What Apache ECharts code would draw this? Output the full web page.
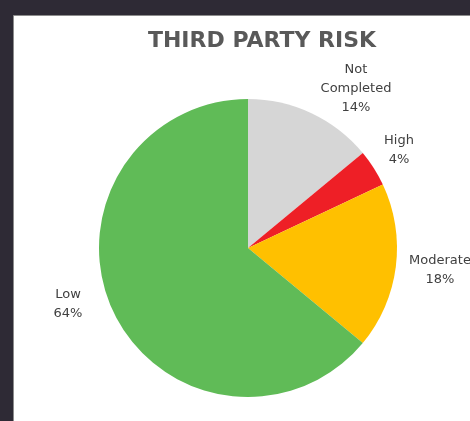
<!DOCTYPE html>
<html>
<head>
<meta charset="utf-8">
<script src="https://cdn.jsdelivr.net/npm/echarts@6/dist/echarts.min.js"></script>
<style>
  html, body { margin: 0; padding: 0; background: #2e2a35; }
  #chart { width: 470px; height: 421px; }
</style>
</head>
<body>
<div id="chart"></div>
<script>
// data
var categories = ['Not Completed', 'High', 'Moderate', 'Low']
var riskValues = [14, 4, 18, 64]
var sliceColors = ['#d6d6d6', '#ee1f26', '#ffc000', '#60bb57']

// where each label block sits (centre, px)
var labelSpots = [[356, 89], [399, 150], [440, 270], [68, 304]]

var chart = echarts.init(document.getElementById('chart'))

chart.setOption({
  backgroundColor: '#2e2a35',
  graphic: [
    {
      type: 'rect',
      shape: { x: 13.5, y: 15.5, width: 470, height: 420 },
      style: { fill: '#ffffff', stroke: '#8c8c8c', lineWidth: 1 },
      z: -10
    }
  ],
  title: {
    text: 'THIRD PARTY RISK',
    left: 257,
    top: 25,
    textAlign: 'center',
    textStyle: {
      fontFamily: 'DejaVu Sans',
      fontWeight: 'bold',
      fontSize: 22,
      color: '#595959'
    }
  },
  series: [
    {
      type: 'pie',
      center: [248, 248],
      radius: 149,
      startAngle: 90,
      clockwise: true,
      silent: true,
      label: {
        show: true,
        position: 'outside',
        overflow: 'none',
        fontFamily: 'DejaVu Sans',
        fontSize: 13,
        lineHeight: 19,
        color: '#404040',
        align: 'center',
        formatter: function (p) {
          return p.name.replace(' ', '\n') + '\n' + p.value + '%'
        }
      },
      labelLine: { show: false },
      labelLayout: function (params) {
        var spot = labelSpots[params.dataIndex]
        return {
          x: spot[0],
          y: spot[1],
          align: 'center',
          verticalAlign: 'middle'
        }
      },
      data: categories.map(function (name, i) {
        return {
          name: name,
          value: riskValues[i],
          itemStyle: { color: sliceColors[i] }
        }
      })
    }
  ]
})
</script>
</body>
</html>
